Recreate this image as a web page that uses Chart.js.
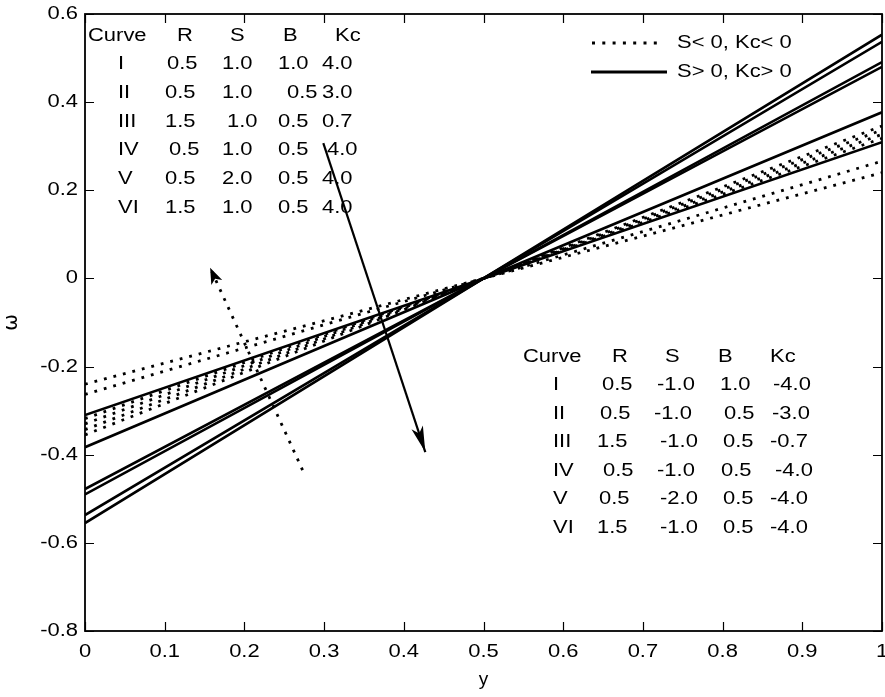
<!DOCTYPE html>
<html>
<head>
<meta charset="utf-8">
<script src="https://cdn.jsdelivr.net/npm/chart.js@4.4.1/dist/chart.umd.min.js"></script>
<style>
  html, body { margin: 0; padding: 0; background: #fff; }
  #wrap { width: 885px; height: 697px; }
</style>
</head>
<body>
<div id="wrap"><canvas id="omegaChart" width="885" height="697"></canvas></div>
<script>
// positions across the channel where omega is read
const yPoints = [0, 0.5, 1];

// S > 0, Kc > 0 (solid lines), omega at y = 0, 0.5, 1
const solidI   = [-0.555, 0, 0.553];
const solidII  = [-0.537, 0, 0.537];
const solidIII = [-0.490, 0, 0.491];
const solidIV  = [-0.478, 0, 0.480];
const solidV   = [-0.383, 0, 0.377];
const solidVI  = [-0.310, 0, 0.309];

// S < 0, Kc < 0 (dotted lines)
const dottedI   = [-0.355, 0, 0.346];
const dottedII  = [-0.343, 0, 0.337];
const dottedIII = [-0.330, 0, 0.327];
const dottedIV  = [-0.318, 0, 0.318];
const dottedV   = [-0.263, 0, 0.266];
const dottedVI  = [-0.240, 0, 0.240];

// arrows (tail -> head)
const arrowSolidX = [0.299, 0.427];
const arrowSolidY = [0.307, -0.394];
const arrowDotX = [0.273, 0.157];
const arrowDotY = [-0.435, 0.024];

// ticks
const xTickValues = [0, 0.1, 0.2, 0.3, 0.4, 0.5, 0.6, 0.7, 0.8, 0.9, 1];
const xTickLabels = ['0', '0.1', '0.2', '0.3', '0.4', '0.5', '0.6', '0.7', '0.8', '0.9', '1'];
const yTickValues = [0.6, 0.4, 0.2, 0, -0.2, -0.4, -0.6, -0.8];
const yTickLabels = ['0.6', '0.4', '0.2', '0', '-0.2', '-0.4', '-0.6', '-0.8'];

// parameter tables
const tableHeader = ['Curve', 'R', 'S', 'B', 'Kc'];
const posRows = [
    ['I', '0.5', '1.0', '1.0', '4.0'],
    ['II', '0.5', '1.0', '0.5', '3.0'],
    ['III', '1.5', '1.0', '0.5', '0.7'],
    ['IV', '0.5', '1.0', '0.5', '4.0'],
    ['V', '0.5', '2.0', '0.5', '4.0'],
    ['VI', '1.5', '1.0', '0.5', '4.0']
];
const negRows = [
    ['I', '0.5', '-1.0', '1.0', '-4.0'],
    ['II', '0.5', '-1.0', '0.5', '-3.0'],
    ['III', '1.5', '-1.0', '0.5', '-0.7'],
    ['IV', '0.5', '-1.0', '0.5', '-4.0'],
    ['V', '0.5', '-2.0', '0.5', '-4.0'],
    ['VI', '1.5', '-1.0', '0.5', '-4.0']
];
const legendLabels = ['S< 0, Kc< 0', 'S> 0, Kc> 0'];

const FONT = "'Liberation Sans', Arial, sans-serif";
const STRETCH = 1.22; // text in the figure is wider than plain Arial

function pts(xs, ys) {
    return xs.map((x, i) => ({ x: x, y: ys[i] }));
}

function wideText(ctx, text, x, y) {
    ctx.save();
    ctx.translate(x, y);
    ctx.scale(STRETCH, 1);
    ctx.fillText(text, 0, 0);
    ctx.restore();
}

const solidStyle = { borderColor: '#000', borderWidth: 2.6, pointRadius: 0, tension: 0, fill: false };
const dotStyle = { borderColor: '#000', borderWidth: 2.8, borderDash: [2.8, 7], borderCapStyle: 'butt', pointRadius: 0, tension: 0, fill: false };

const datasets = [
    { label: 'arrowSolid', data: pts(arrowSolidX, arrowSolidY), ...solidStyle, borderWidth: 2.2 },
    { label: 'arrowDot', data: pts(arrowDotX, arrowDotY), ...dotStyle },
    { label: 'I+', data: pts(yPoints, solidI), ...solidStyle },
    { label: 'II+', data: pts(yPoints, solidII), ...solidStyle },
    { label: 'III+', data: pts(yPoints, solidIII), ...solidStyle },
    { label: 'IV+', data: pts(yPoints, solidIV), ...solidStyle },
    { label: 'V+', data: pts(yPoints, solidV), ...solidStyle },
    { label: 'VI+', data: pts(yPoints, solidVI), ...solidStyle },
    { label: 'I-', data: pts(yPoints, dottedI), ...dotStyle },
    { label: 'II-', data: pts(yPoints, dottedII), ...dotStyle },
    { label: 'III-', data: pts(yPoints, dottedIII), ...dotStyle },
    { label: 'IV-', data: pts(yPoints, dottedIV), ...dotStyle },
    { label: 'V-', data: pts(yPoints, dottedV), ...dotStyle },
    { label: 'VI-', data: pts(yPoints, dottedVI), ...dotStyle }
];

// box around the plot, inward ticks on all four sides, tick labels
const framePlugin = {
    id: 'frame',
    afterDatasetsDraw(chart) {
        const { ctx, chartArea: a, scales } = chart;
        const tl = 9;
        ctx.save();
        ctx.strokeStyle = '#000';
        ctx.lineWidth = 1.2;
        ctx.beginPath();
        xTickValues.forEach(v => {
            const px = Math.round(scales.x.getPixelForValue(v)) + 0.5;
            ctx.moveTo(px, a.bottom); ctx.lineTo(px, a.bottom - tl);
            ctx.moveTo(px, a.top); ctx.lineTo(px, a.top + tl);
        });
        yTickValues.forEach(v => {
            const py = Math.round(scales.y.getPixelForValue(v)) + 0.5;
            ctx.moveTo(a.left, py); ctx.lineTo(a.left + tl, py);
            ctx.moveTo(a.right, py); ctx.lineTo(a.right - tl, py);
        });
        ctx.stroke();
        ctx.lineWidth = 1.8;
        ctx.strokeRect(a.left, a.top, a.right - a.left, a.bottom - a.top);

        ctx.fillStyle = '#000';
        ctx.font = '18px ' + FONT;
        ctx.textBaseline = 'middle';
        ctx.textAlign = 'center';
        xTickValues.forEach((v, i) => {
            wideText(ctx, xTickLabels[i], scales.x.getPixelForValue(v), a.bottom + 21);
        });
        ctx.textAlign = 'right';
        yTickValues.forEach((v, i) => {
            wideText(ctx, yTickLabels[i], a.left - 7, scales.y.getPixelForValue(v));
        });
        ctx.restore();
    }
};

function drawHead(ctx, from, to, len, half) {
    const ang = Math.atan2(to.y - from.y, to.x - from.x);
    ctx.beginPath();
    ctx.moveTo(to.x, to.y);
    ctx.lineTo(to.x - len * Math.cos(ang) + half * Math.sin(ang), to.y - len * Math.sin(ang) - half * Math.cos(ang));
    ctx.lineTo(to.x - len * 0.75 * Math.cos(ang), to.y - len * 0.75 * Math.sin(ang));
    ctx.lineTo(to.x - len * Math.cos(ang) - half * Math.sin(ang), to.y - len * Math.sin(ang) + half * Math.cos(ang));
    ctx.closePath();
    ctx.fill();
}

const arrowPlugin = {
    id: 'arrowHeads',
    afterDatasetsDraw(chart) {
        const ctx = chart.ctx;
        ctx.save();
        ctx.fillStyle = '#000';
        const s = chart.getDatasetMeta(0).data;
        drawHead(ctx, s[0], s[1], 26, 6);
        const d = chart.getDatasetMeta(1).data;
        drawHead(ctx, d[0], d[1], 16, 6);
        ctx.restore();
    }
};

// parameter tables and the line-style legend
const textPlugin = {
    id: 'tables',
    afterDraw(chart) {
        const ctx = chart.ctx;
        ctx.save();
        ctx.fillStyle = '#000';
        ctx.font = '18px ' + FONT;
        ctx.textBaseline = 'middle';
        ctx.textAlign = 'left';

        // top-left table (S > 0)
        const topHead = [88, 177, 230, 283, 335];
        const topCols = [
            [118, 167, 222, 278, 322],
            [118, 165, 222, 287, 322],
            [118, 165, 227, 278, 322],
            [118, 169, 222, 278, 327],
            [118, 165, 222, 278, 322],
            [118, 165, 222, 278, 322]
        ];
        tableHeader.forEach((t, j) => wideText(ctx, t, topHead[j], 36));
        posRows.forEach((row, i) => {
            row.forEach((t, j) => wideText(ctx, t, topCols[i][j], 64 + i * 28.8));
        });

        // bottom-right table (S < 0)
        const botHead = [523, 612, 665, 718, 770];
        const botCols = [
            [553, 602, 657, 720, 773],
            [553, 600, 654, 724, 772],
            [553, 597, 660, 723, 770],
            [553, 603, 657, 721, 775],
            [553, 599, 660, 723, 770],
            [553, 597, 660, 723, 770]
        ];
        tableHeader.forEach((t, j) => wideText(ctx, t, botHead[j], 357));
        negRows.forEach((row, i) => {
            row.forEach((t, j) => wideText(ctx, t, botCols[i][j], 385.5 + i * 28.5));
        });

        // legend
        ctx.strokeStyle = '#000';
        ctx.lineWidth = 3;
        ctx.setLineDash([3, 7.3]);
        ctx.beginPath();
        ctx.moveTo(592, 43); ctx.lineTo(664, 43);
        ctx.stroke();
        ctx.setLineDash([]);
        ctx.beginPath();
        ctx.moveTo(591, 72); ctx.lineTo(667, 72);
        ctx.stroke();
        wideText(ctx, legendLabels[0], 677, 43);
        wideText(ctx, legendLabels[1], 677, 72);
        ctx.restore();
    }
};

const ctxOmega = document.getElementById('omegaChart').getContext('2d');
const omegaChart = new Chart(ctxOmega, {
    type: 'line',
    data: { datasets: datasets },
    options: {
        responsive: false,
        animation: false,
        layout: { padding: { top: 14, right: 3, left: 0, bottom: 0 } },
        plugins: {
            legend: { display: false },
            tooltip: { enabled: false }
        },
        scales: {
            x: {
                type: 'linear',
                min: 0,
                max: 1,
                grid: { display: false, drawTicks: false },
                border: { display: false },
                afterBuildTicks: scale => { scale.ticks = xTickValues.map(v => ({ value: v })); },
                afterFit: scale => { scale.height = 66; },
                ticks: { display: false },
                title: {
                    display: true,
                    text: 'y',
                    color: '#000',
                    font: { family: FONT, size: 19 },
                    padding: { top: 0, bottom: 6 }
                }
            },
            y: {
                type: 'linear',
                min: -0.8,
                max: 0.6,
                grid: { display: false, drawTicks: false },
                border: { display: false },
                afterBuildTicks: scale => { scale.ticks = yTickValues.map(v => ({ value: v })); },
                afterFit: scale => { scale.width = 85; },
                ticks: { display: false },
                title: {
                    display: true,
                    text: 'ω',
                    color: '#000',
                    font: { family: "'DejaVu Sans', sans-serif", size: 20 },
                    padding: { top: 0, bottom: 0 }
                }
            }
        }
    },
    plugins: [framePlugin, arrowPlugin, textPlugin]
});
</script>
</body>
</html>
